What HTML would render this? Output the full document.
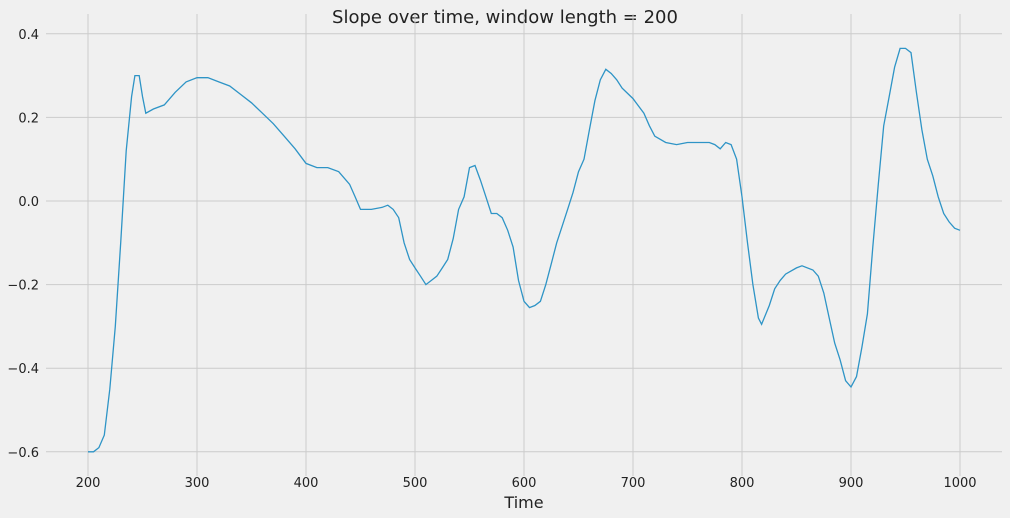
<!DOCTYPE html>
<html><head><meta charset="utf-8"><style>
body{margin:0;background:#f0f0f0;font-family:"DejaVu Sans","Liberation Sans",sans-serif}
svg{display:block}
text{font-family:"DejaVu Sans","Liberation Sans",sans-serif}
</style></head><body>
<svg id="chart" width="1010" height="518" xmlns="http://www.w3.org/2000/svg">
<rect width="1010" height="518" fill="#f0f0f0"/>
<text x="505" y="23" text-anchor="middle" font-size="18" fill="#222">Slope over time, window length = 200</text>
<text x="524" y="508" text-anchor="middle" font-size="16" fill="#222">Time</text>
<g id="grid"></g>
<g id="ticks"></g>
<path id="line" fill="none" stroke="#2e94c6" stroke-width="1.3"/>
</svg>
<script>
const times=[200,205,210,215,220,225,230,235,240,243,247,250,253,260,270,280,290,300,310,320,330,340,350,360,370,380,390,400,410,420,430,440,445,450,460,470,475,480,485,490,495,500,505,510,515,520,525,530,535,540,545,550,555,560,565,570,575,580,585,590,595,600,605,610,615,620,625,630,635,640,645,650,655,660,665,670,675,680,685,690,700,710,715,720,730,740,750,760,770,775,780,785,790,795,800,805,810,815,818,825,830,835,840,850,855,865,870,875,880,885,890,895,900,905,910,915,920,925,930,935,940,945,950,955,960,965,970,975,980,985,990,995,1000];
const slopes=[-0.60,-0.60,-0.59,-0.56,-0.45,-0.30,-0.10,0.12,0.25,0.30,0.30,0.25,0.21,0.22,0.23,0.26,0.285,0.295,0.295,0.285,0.275,0.255,0.235,0.21,0.185,0.155,0.125,0.09,0.08,0.08,0.07,0.04,0.01,-0.02,-0.02,-0.015,-0.01,-0.02,-0.04,-0.1,-0.14,-0.16,-0.18,-0.2,-0.19,-0.18,-0.16,-0.14,-0.09,-0.02,0.01,0.08,0.085,0.05,0.01,-0.03,-0.03,-0.04,-0.07,-0.11,-0.19,-0.24,-0.255,-0.25,-0.24,-0.20,-0.15,-0.10,-0.06,-0.02,0.02,0.07,0.1,0.17,0.24,0.29,0.315,0.305,0.29,0.27,0.245,0.21,0.18,0.155,0.14,0.135,0.14,0.14,0.14,0.135,0.125,0.14,0.135,0.1,0.01,-0.1,-0.2,-0.28,-0.295,-0.25,-0.21,-0.19,-0.175,-0.16,-0.155,-0.165,-0.18,-0.22,-0.28,-0.34,-0.38,-0.43,-0.445,-0.42,-0.35,-0.27,-0.11,0.04,0.18,0.25,0.32,0.365,0.365,0.355,0.26,0.17,0.1,0.06,0.01,-0.03,-0.05,-0.065,-0.07];
const xTicks=[200,300,400,500,600,700,800,900,1000];
const yTicks=[-0.6,-0.4,-0.2,0.0,0.2,0.4];
const xs=t=>88+(t-200)*1.09;
const ys=v=>201-v*418;
const NS="http://www.w3.org/2000/svg";
const g=document.getElementById('grid'),tk=document.getElementById('ticks');
xTicks.forEach(t=>{
 const l=document.createElementNS(NS,'line');
 
 
 l.setAttribute('x1',xs(t));l.setAttribute('x2',xs(t));l.setAttribute('y1',14);l.setAttribute('y2',476);
 l.setAttribute('stroke','#cbcbcb');l.setAttribute('stroke-width','1');g.appendChild(l);
 const tx=document.createElementNS(NS,'text');
 
 
 tx.setAttribute('x',xs(t));tx.setAttribute('y',487);tx.setAttribute('text-anchor','middle');tx.setAttribute('font-size','13');tx.setAttribute('fill','#222');
 tx.textContent=t;tk.appendChild(tx);
});
yTicks.forEach(v=>{
 const l=document.createElementNS(NS,'line');
 
 
 l.setAttribute('x1',46);l.setAttribute('x2',1002);l.setAttribute('y1',ys(v));l.setAttribute('y2',ys(v));
 l.setAttribute('stroke','#cbcbcb');l.setAttribute('stroke-width','1');g.appendChild(l);
 const tx=document.createElementNS(NS,'text');
 
 
 tx.setAttribute('x',39);tx.setAttribute('y',ys(v)+5);tx.setAttribute('text-anchor','end');tx.setAttribute('font-size','13');tx.setAttribute('fill','#222');
 tx.textContent=v.toFixed(1).replace('-','\u2212');tk.appendChild(tx);
});
document.getElementById('line').setAttribute('d',times.map((t,i)=>(i?'L':'M')+xs(t).toFixed(1)+','+ys(slopes[i]).toFixed(1)).join(''));
</script>
</body></html>
